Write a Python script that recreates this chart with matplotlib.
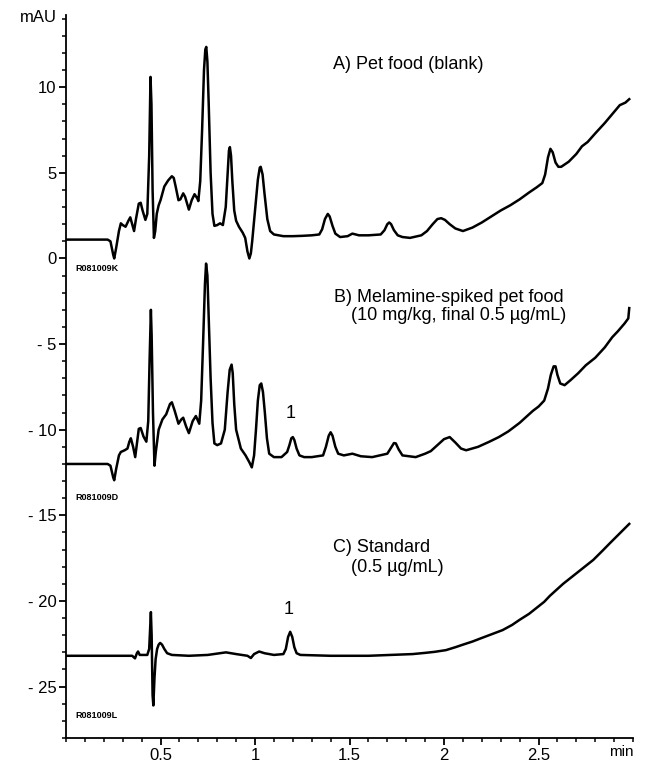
import matplotlib
matplotlib.use("Agg")
import matplotlib.pyplot as plt
from matplotlib.ticker import MultipleLocator, FixedLocator, FuncFormatter

plt.rcParams['font.family'] = ['Liberation Sans', 'DejaVu Sans']

# retention time (min) / absorbance (mAU)
blank_t = [0.00, 0.22, 0.235, 0.25, 0.255, 0.265, 0.28, 0.29, 0.30, 0.315, 0.33, 0.34, 0.35, 0.36,
           0.37, 0.385, 0.395, 0.405, 0.42, 0.43, 0.44, 0.447, 0.452, 0.458, 0.465, 0.472, 0.48,
           0.49, 0.50, 0.52, 0.54, 0.56, 0.57, 0.58, 0.595, 0.605, 0.62, 0.63, 0.65, 0.665, 0.68,
           0.695, 0.70, 0.71, 0.72, 0.73, 0.737, 0.742, 0.748, 0.755, 0.765, 0.775, 0.785, 0.80,
           0.815, 0.83, 0.845, 0.855, 0.862, 0.867, 0.873, 0.88, 0.89, 0.90, 0.915, 0.935, 0.948,
           0.96, 0.97, 0.978, 0.985, 1.00, 1.015, 1.025, 1.03, 1.04, 1.05, 1.065, 1.08, 1.10,
           1.15, 1.20, 1.25, 1.30, 1.34, 1.355, 1.37, 1.385, 1.395, 1.41, 1.425, 1.45, 1.49,
           1.515, 1.55, 1.60, 1.665, 1.685, 1.70, 1.71, 1.72, 1.735, 1.755, 1.78, 1.82, 1.88,
           1.91, 1.94, 1.965, 1.985, 2.005, 2.03, 2.06, 2.10, 2.15, 2.20, 2.25, 2.30, 2.35, 2.40,
           2.45, 2.49, 2.52, 2.535, 2.55, 2.563, 2.575, 2.59, 2.605, 2.62, 2.66, 2.70, 2.73,
           2.76, 2.80, 2.85, 2.90, 2.93, 2.96, 2.98]
blank_mau = [1.10, 1.10, 1.0, 0.2, 0.0, 0.6, 1.6, 2.05, 1.95, 1.85, 2.2, 2.4, 2.0, 1.6,
             2.3, 3.2, 3.25, 2.8, 2.25, 2.6, 6.0, 10.6, 9.0, 4.0, 1.2, 1.6, 2.6,
             3.1, 3.4, 4.2, 4.55, 4.8, 4.7, 4.2, 3.4, 3.45, 3.8, 3.6, 2.85, 3.4, 3.75,
             3.5, 3.35, 4.5, 7.5, 11.0, 12.2, 12.35, 11.5, 9.0, 5.0, 2.6, 1.9, 1.95,
             2.05, 1.95, 3.0, 5.0, 6.3, 6.5, 6.0, 4.5, 2.8, 2.2, 1.85, 1.5, 1.2,
             0.4, 0.0, 0.3, 1.0, 2.8, 4.6, 5.3, 5.35, 4.9, 3.8, 2.3, 1.6, 1.4,
             1.3, 1.3, 1.32, 1.35, 1.4, 1.7, 2.3, 2.6, 2.45, 1.9, 1.45, 1.25, 1.3,
             1.45, 1.35, 1.35, 1.4, 1.65, 2.0, 2.1, 2.0, 1.65, 1.35, 1.25, 1.2, 1.35,
             1.6, 2.0, 2.3, 2.35, 2.25, 2.0, 1.75, 1.6, 1.8, 2.1, 2.45, 2.8, 3.1, 3.45,
             3.85, 4.15, 4.4, 4.9, 5.9, 6.4, 6.2, 5.6, 5.35, 5.35, 5.65, 6.1, 6.55,
             6.8, 7.3, 7.9, 8.55, 8.95, 9.1, 9.3]

spiked_t = [0.00, 0.22, 0.235, 0.25, 0.255, 0.265, 0.28, 0.29, 0.31, 0.325, 0.335, 0.343, 0.355,
            0.366, 0.375, 0.385, 0.395, 0.41, 0.425, 0.435, 0.442, 0.449, 0.453, 0.46, 0.468,
            0.475, 0.49, 0.51, 0.53, 0.55, 0.56, 0.575, 0.595, 0.61, 0.62, 0.635, 0.65, 0.67,
            0.687, 0.705, 0.715, 0.725, 0.735, 0.741, 0.748, 0.755, 0.765, 0.775, 0.785, 0.80,
            0.82, 0.84, 0.855, 0.866, 0.876, 0.882, 0.89, 0.90, 0.925, 0.95, 0.97, 0.983, 0.995,
            1.005, 1.015, 1.025, 1.033, 1.042, 1.052, 1.063, 1.075, 1.10, 1.14, 1.17, 1.182,
            1.192, 1.20, 1.208, 1.22, 1.235, 1.26, 1.30, 1.36, 1.375, 1.39, 1.40, 1.41, 1.425,
            1.44, 1.47, 1.515, 1.56, 1.62, 1.70, 1.72, 1.735, 1.745, 1.76, 1.78, 1.85, 1.90,
            1.93, 1.97, 2.00, 2.03, 2.06, 2.09, 2.117, 2.18, 2.24, 2.29, 2.34, 2.40, 2.44, 2.47,
            2.50, 2.53, 2.55, 2.565, 2.58, 2.59, 2.60, 2.615, 2.638, 2.67, 2.71, 2.75, 2.80,
            2.85, 2.89, 2.92, 2.955, 2.975, 2.98]
spiked_mau = [-12.0, -12.0, -12.1, -12.8, -12.95, -12.3, -11.5, -11.3, -11.2, -11.1, -10.7, -10.5, -11.0,
              -11.6, -10.8, -9.95, -9.9, -10.4, -10.7, -9.5, -6.0, -3.0, -4.5, -9.0, -12.1,
              -11.3, -10.0, -9.4, -9.1, -8.5, -8.4, -8.9, -9.65, -9.4, -9.3, -9.8, -10.2, -9.5,
              -9.2, -9.65, -8.3, -5.0, -1.5, -0.3, -1.0, -3.5, -7.0, -9.6, -10.8, -10.9,
              -10.8, -10.0, -7.8, -6.5, -6.2, -6.7, -8.5, -10.0, -11.1, -11.5, -11.9, -12.2, -11.5,
              -10.0, -8.3, -7.4, -7.3, -7.8, -9.0, -10.5, -11.4, -11.6, -11.6, -11.3, -10.9,
              -10.5, -10.43, -10.6, -11.1, -11.5, -11.6, -11.6, -11.5, -11.0, -10.35, -10.15, -10.35, -11.0,
              -11.4, -11.5, -11.4, -11.55, -11.6, -11.4, -11.05, -10.78, -10.8, -11.15, -11.5, -11.6, -11.4,
              -11.25, -10.85, -10.55, -10.43, -10.75, -11.1, -11.2, -11.0, -10.7, -10.43, -10.1, -9.6, -9.2, -8.9,
              -8.65, -8.3, -7.6, -6.8, -6.3, -6.3, -6.8, -7.3, -7.4, -7.1, -6.7, -6.24, -5.8,
              -5.2, -4.6, -4.25, -3.8, -3.5, -2.9]

std_t = [0.00, 0.35, 0.365, 0.375, 0.381, 0.39, 0.43, 0.44, 0.449, 0.453, 0.458, 0.462, 0.468,
         0.474, 0.482, 0.49, 0.498, 0.508, 0.52, 0.535, 0.56, 0.65, 0.75, 0.846, 0.90, 0.96,
         0.978, 0.995, 1.022, 1.05, 1.10, 1.15, 1.163, 1.175, 1.186, 1.197, 1.208, 1.22, 1.24,
         1.40, 1.60, 1.834, 1.90, 1.95, 2.01, 2.06, 2.10, 2.15, 2.19, 2.25, 2.31, 2.36, 2.40,
         2.45, 2.49, 2.53, 2.56, 2.60, 2.63, 2.67, 2.71, 2.75, 2.79, 2.84, 2.88, 2.93, 2.98]
std_mau = [-23.2, -23.2, -23.35, -23.05, -22.95, -23.15, -23.15, -22.8, -20.65, -22.0, -25.5, -26.1, -24.5,
           -23.4, -22.8, -22.55, -22.45, -22.55, -22.8, -23.05, -23.15, -23.2, -23.15, -23.0, -23.1, -23.2,
           -23.33, -23.1, -22.95, -23.05, -23.15, -23.1, -22.8, -22.1, -21.8, -22.1, -22.7, -23.05, -23.15,
           -23.2, -23.2, -23.1, -23.03, -22.97, -22.87, -22.7, -22.55, -22.37, -22.2, -21.95, -21.7, -21.4, -21.1,
           -20.75, -20.4, -20.05, -19.7, -19.3, -19.0, -18.65, -18.3, -17.95, -17.6, -17.05, -16.6, -16.05, -15.5]

fig = plt.figure(figsize=(6.57, 7.62), dpi=100)
ax = fig.add_axes([0.1005, 0.0315, 0.863, 0.9485])

for t, y in [(blank_t, blank_mau), (spiked_t, spiked_mau), (std_t, std_mau)]:
    ax.plot(t, y, color='black', lw=1.8, solid_joinstyle='round')

ax.set_xlim(0, 3.0)
ax.set_ylim(-28.0, 14.2)

ax.spines['top'].set_visible(False)
ax.spines['right'].set_visible(False)
ax.spines['left'].set_linewidth(1.3)
ax.spines['bottom'].set_linewidth(1.3)

ax.xaxis.set_major_locator(FixedLocator([0.5, 1.0, 1.5, 2.0, 2.5]))
ax.xaxis.set_minor_locator(MultipleLocator(0.1))
ax.xaxis.set_major_formatter(FuncFormatter(lambda v, p: '%g' % v))
ax.yaxis.set_major_locator(MultipleLocator(5))
ax.yaxis.set_minor_locator(MultipleLocator(1))
ax.yaxis.set_major_formatter(FuncFormatter(lambda v, p: '- %d' % abs(v) if v < 0 else '%d' % v))
ax.tick_params(which='major', length=5, width=1.3, labelsize=12, direction='out', pad=2)
ax.tick_params(which='minor', length=3, width=1.1, direction='out')

fig.text(0.03, 0.977, 'mAU', fontsize=12, va='center', ha='left')
fig.text(0.945, 0.013, 'min', fontsize=11, va='center', ha='center')

lab = dict(fontsize=13, ha='left', va='center')
ax.text(1.41, 11.3, 'A) Pet food (blank)', **lab)
ax.text(1.42, -2.26, 'B) Melamine-spiked pet food', **lab)
ax.text(1.51, -3.35, '(10 mg/kg, final 0.5 µg/mL)', **lab)
ax.text(1.41, -16.9, 'C) Standard', **lab)
ax.text(1.51, -18.05, '(0.5 µg/mL)', **lab)

ax.text(1.19, -9.05, '1', fontsize=13, ha='center', va='center')
ax.text(1.18, -20.5, '1', fontsize=13, ha='center', va='center')

code = dict(fontsize=6.5, fontweight='bold', ha='left', va='center')
ax.text(0.05, -0.58, 'R081009K', **code)
ax.text(0.05, -13.94, 'R081009D', **code)
ax.text(0.05, -26.7, 'R081009L', **code)

fig.savefig('out.png', dpi=100)
